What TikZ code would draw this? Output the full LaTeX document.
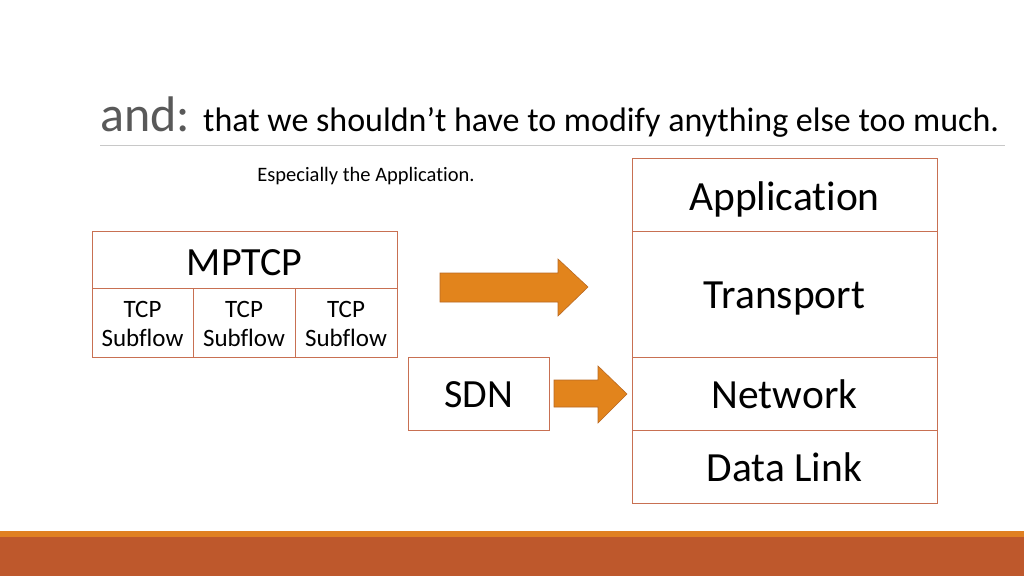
\documentclass[tikz,border=0pt]{standalone}
\usepackage{fontspec}
\setmainfont[Ligatures=NoCommon]{Carlito}
\usetikzlibrary{calc}
\definecolor{boxline}{RGB}{200,112,82}
\definecolor{arrowfill}{RGB}{226,132,28}
\definecolor{arrowline}{RGB}{185,105,35}
\definecolor{barlight}{RGB}{224,128,34}
\definecolor{bardark}{RGB}{190,88,44}
\definecolor{titlegray}{RGB}{89,89,89}
\definecolor{rulegray}{RGB}{200,200,200}
\tikzset{
  lbl/.style={anchor=base, inner sep=0pt},
  boxedge/.style={draw=boxline, line width=0.9pt},
  bigarrow/.style={fill=arrowfill, draw=arrowline, line width=0.6pt},
}
\newcommand{\fs}[1]{\fontsize{#1}{#1}\selectfont}
\begin{document}
\begin{tikzpicture}[x=1pt,y=-1pt]
\useasboundingbox (0,0) rectangle (1024,576);
\fill[white] (0,0) rectangle (1024,576);
% bottom bars
\fill[barlight] (0,531) rectangle (1024,537);
\fill[bardark] (0,537) rectangle (1024,576);
% title
\node[anchor=base west, inner sep=0pt, text=titlegray] (and) at (100,131) {\fs{50}and:};
\node[anchor=base west, inner sep=0pt] (title) at (203,131) {\fs{34}that we shouldn’t have to modify anything else too much.};
\draw[rulegray, line width=0.8pt] (100,145.5) -- (1005,145.5);
\node[lbl] (esp) at (366,181) {\fs{20.5}Especially the Application.};
% MPTCP block
\draw[boxedge] (92,231) rectangle (397,357);
\draw[boxedge] (92,288) -- (397,288);
\draw[boxedge] (193,288) -- (193,357);
\draw[boxedge] (295,288) -- (295,357);
\node[lbl] (mptcp) at (244.5,275) {\fs{40}MPTCP};
\node[lbl] (t1) at (142.5,317) {\fs{25}TCP};
\node[lbl] (f1) at (142.5,346) {\fs{25}Subflow};
\node[lbl] (t2) at (244,317) {\fs{25}TCP};
\node[lbl] (f2) at (244,346) {\fs{25}Subflow};
\node[lbl] (t3) at (346,317) {\fs{25}TCP};
\node[lbl] (f3) at (346,346) {\fs{25}Subflow};
% SDN
\draw[boxedge] (408,357) rectangle (549,430);
\node[lbl] (sdn) at (478.5,407) {\fs{40}SDN};
% stack
\draw[boxedge] (632,158) rectangle (937,503);
\draw[boxedge] (632,231) -- (937,231);
\draw[boxedge] (632,357) -- (937,357);
\draw[boxedge] (632,430) -- (937,430);
\node[lbl] (app) at (784.5,210) {\fs{41.5}Application};
\node[lbl] (trans) at (784.5,308) {\fs{41.5}Transport};
\node[lbl] (net) at (784.5,408) {\fs{41.5}Network};
\node[lbl] (dl) at (784.5,481) {\fs{41.5}Data Link};
% arrows
\draw[bigarrow] (440,273) -- (558,273) -- (558,259) -- (588,287) -- (558,316) -- (558,302) -- (440,302) -- cycle;
\draw[bigarrow] (554,380) -- (598,380) -- (598,366) -- (627,394) -- (598,423) -- (598,407) -- (554,407) -- cycle;
\end{tikzpicture}
\end{document}
